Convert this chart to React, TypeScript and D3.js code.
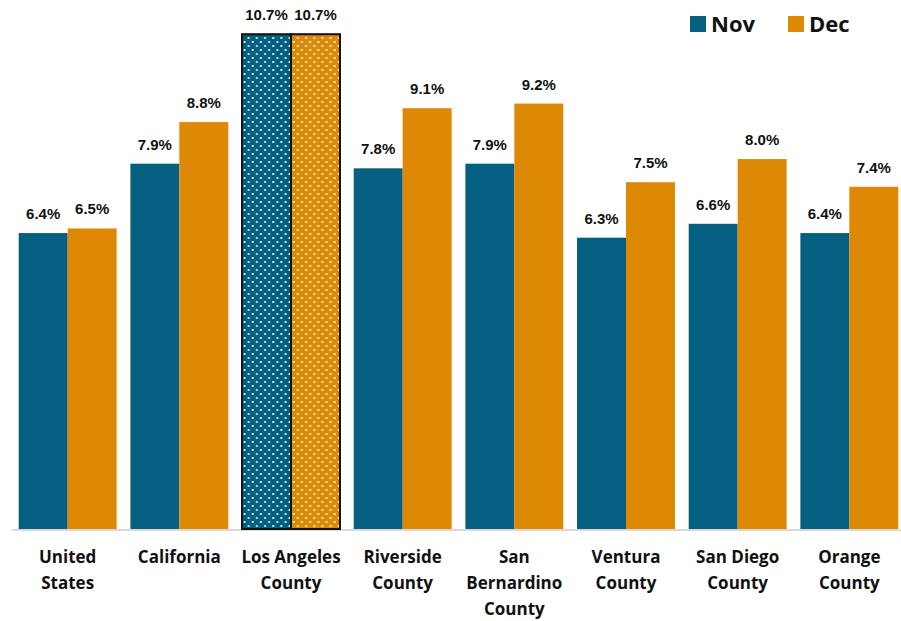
import * as d3 from "d3";

const categories = [
  ["United", "States"],
  ["California"],
  ["Los Angeles", "County"],
  ["Riverside", "County"],
  ["San", "Bernardino", "County"],
  ["Ventura", "County"],
  ["San Diego", "County"],
  ["Orange", "County"],
];
const series = ["Nov", "Dec"];
const novValues = [6.4, 7.9, 10.7, 7.8, 7.9, 6.3, 6.6, 6.4];
const decValues = [6.5, 8.8, 10.7, 9.1, 9.2, 7.5, 8.0, 7.4];
const highlightIndex = 2;

const COLORS: Record<string, string> = { Nov: "#055f80", Dec: "#de8905" };

const W = 901;
const H = 621;
const baseY = 529;

export default function App() {
  const x = d3
    .scaleBand<number>()
    .domain(d3.range(categories.length))
    .range([12, 905])
    .paddingInner(0.123)
    .paddingOuter(0.06);
  const x1 = d3.scaleBand<string>().domain(series).range([0, x.bandwidth()]);
  const y = d3.scaleLinear().domain([0, 11.44]).range([baseY, 0]);

  const valuesFor = (s: string) => (s === "Nov" ? novValues : decValues);

  return (
    <svg
      width={W}
      height={H}
      style={{ position: "absolute", left: 0, top: 0, background: "#fff" }}
    >
      <defs>
        <pattern id="dots" width={8.2} height={8} patternUnits="userSpaceOnUse">
          <rect x={1.5} y={1} width={2} height={2} fill="#fff" opacity={0.8} />
          <rect x={5.6} y={5} width={2} height={2} fill="#fff" opacity={0.8} />
        </pattern>
      </defs>

      {/* axis line */}
      <line x1={12} x2={901} y1={baseY + 1} y2={baseY + 1} stroke="#d9d9d9" strokeWidth={2} />

      {categories.map((_, i) => (
        <g key={i} transform={`translate(${x(i)},0)`}>
          {series.map((s) => {
            const v = valuesFor(s)[i];
            const bx = x1(s)!;
            const bw = x1.bandwidth();
            const top = y(v);
            const hl = i === highlightIndex;
            return (
              <g key={s}>
                <rect x={bx} y={top} width={bw} height={baseY - top} fill={COLORS[s]} />
                {hl && (
                  <>
                    <rect x={bx} y={top} width={bw} height={baseY - top} fill="url(#dots)" />
                    <rect
                      x={bx}
                      y={top}
                      width={bw}
                      height={baseY - top}
                      fill="none"
                      stroke="#111"
                      strokeWidth={2}
                    />
                  </>
                )}
                <text
                  x={bx + bw / 2}
                  y={top - 14}
                  textAnchor="middle"
                  fontFamily="'Liberation Sans', Arial, sans-serif"
                  fontWeight={700}
                  fontSize={15}
                  fill="#111"
                >
                  {v.toFixed(1)}%
                </text>
              </g>
            );
          })}
        </g>
      ))}

      {/* category labels */}
      {categories.map((lines, i) => (
        <text
          key={i}
          x={x(i)! + x.bandwidth() / 2}
          y={563}
          textAnchor="middle"
          fontFamily="'Open Sans', 'Noto Sans', sans-serif"
          fontWeight={700}
          fontSize={17}
          fill="#111"
        >
          {lines.map((l, j) => (
            <tspan key={j} x={x(i)! + x.bandwidth() / 2} dy={j === 0 ? 0 : 26}>
              {l}
            </tspan>
          ))}
        </text>
      ))}

      {/* legend */}
      {series.map((s, i) => (
        <g key={s} transform={`translate(${690 + i * 98},16)`}>
          <rect x={0} y={0} width={16} height={16} fill={COLORS[s]} />
          <text
            x={21}
            y={16}
            fontFamily="'Open Sans', 'Noto Sans', sans-serif"
            fontWeight={700}
            fontSize={22}
            fill="#111"
          >
            {s}
          </text>
        </g>
      ))}
    </svg>
  );
}
